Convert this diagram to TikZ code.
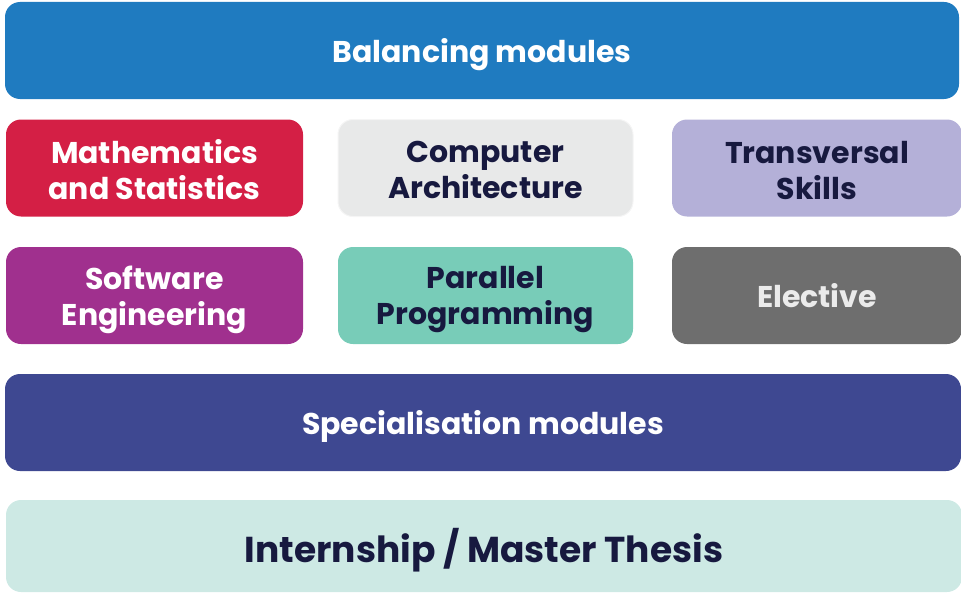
\documentclass[tikz,border=0pt]{standalone}
\usepackage{fontspec}
\setmainfont{Poppins}
\definecolor{cblue}{HTML}{1F7BC0}
\definecolor{cred}{HTML}{D41F45}
\definecolor{clgray}{HTML}{E8E9E9}
\definecolor{clav}{HTML}{B4B0D8}
\definecolor{cpurp}{HTML}{A0308E}
\definecolor{cteal}{HTML}{78CCB8}
\definecolor{cgray}{HTML}{6E6E6E}
\definecolor{cindigo}{HTML}{3E4891}
\definecolor{cmint}{HTML}{CDE9E4}
\definecolor{cdark}{HTML}{17193F}
\newcommand\lnst{\rule[-0.27em]{0pt}{0.75em}}
\begin{document}
\begin{tikzpicture}[x=1pt,y=-1pt,
  box/.style={rectangle,rounded corners=15pt,inner sep=0pt,minimum height=97pt},
  lab/.style={inner sep=0pt,align=center,yshift=-4.5pt,
    font=\fontsize{30}{36}\selectfont\bfseries},
  biglab/.style={lab,yshift=0pt,font=\fontsize{36}{40}\selectfont\bfseries}]
\useasboundingbox (0,0) rectangle (961,594);
\node[box,fill=cblue,minimum width=954pt,
  label={[lab,text=white]center:\lnst Balancing modules}] (bal) at (482,50.5) {};
\node[box,fill=cred,minimum width=297pt,
  label={[lab,text=white,yshift=-1.5pt]center:\lnst Mathematics\\\lnst and Statistics}] (math) at (154.5,168) {};
\node[box,fill=clgray,draw=white!96!black,line width=1pt,minimum width=295pt,
  label={[lab,text=cdark,yshift=-1.5pt]center:\lnst Computer\\\lnst Architecture}] (arch) at (485.5,168) {};
\node[box,fill=clav,minimum width=290pt,
  label={[lab,text=cdark,yshift=-1.5pt]center:\lnst Transversal\\\lnst Skills}] (trans) at (817,168) {};
\node[box,fill=cpurp,minimum width=297pt,
  label={[lab,text=white]center:\lnst Software\\\lnst Engineering}] (soft) at (154.5,295.5) {};
\node[box,fill=cteal,minimum width=295pt,
  label={[lab,text=cdark]center:\lnst Parallel\\\lnst Programming}] (par) at (485.5,295.5) {};
\node[box,fill=cgray,minimum width=290pt,
  label={[lab,text=white!92!black]center:\lnst Elective}] (elec) at (817,295.5) {};
\node[box,fill=cindigo,minimum width=956pt,
  label={[lab,text=white]center:\lnst Specialisation modules}] (spec) at (483,422.5) {};
\node[box,fill=cmint,minimum width=956pt,minimum height=92pt,
  label={[biglab,text=cdark]center:\lnst Internship / Master Thesis}] (intern) at (484,546) {};
\end{tikzpicture}
\end{document}
